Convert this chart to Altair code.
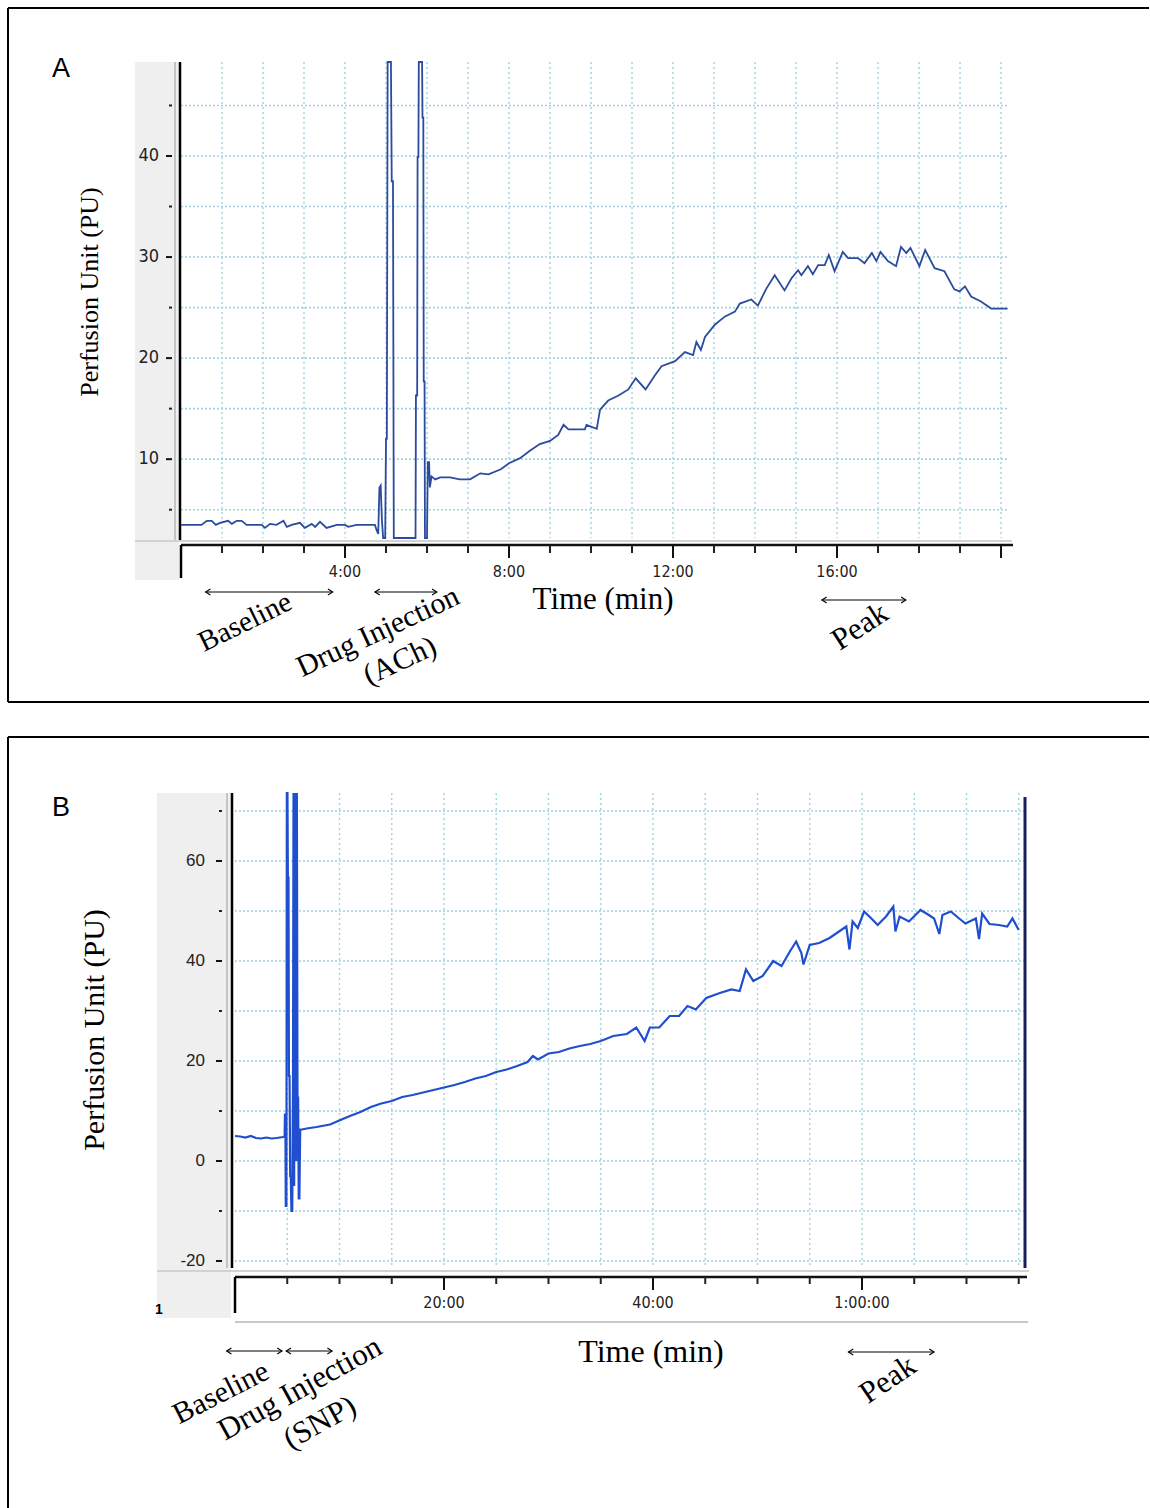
import altair as alt
import pandas as pd

# ---------------- Panel A : ACh ----------------
a_time = [0.0, 0.5, 0.63, 0.75, 0.85, 0.95, 1.15, 1.24, 1.36, 1.48,
          1.6, 1.97, 2.05, 2.17, 2.33, 2.5, 2.58, 2.7, 2.9, 3.02,
          3.19, 3.27, 3.39, 3.55, 3.8, 4.0, 4.08, 4.28, 4.73, 4.77,
          4.81, 4.84, 4.87, 4.9, 4.93, 4.98, 5.0, 5.02, 5.04, 5.12,
          5.14, 5.17, 5.19, 5.72, 5.73, 5.76, 5.77, 5.79, 5.8, 5.88,
          5.89, 5.91, 5.92, 5.94, 5.95, 6.0, 6.02, 6.05, 6.07, 6.11,
          6.2, 6.32, 6.56, 6.8, 7.05, 7.3, 7.5, 7.8, 8.0, 8.27,
          8.5, 8.75, 9.0, 9.2, 9.33, 9.45, 9.85, 9.89, 10.14, 10.22,
          10.42, 10.67, 10.91, 11.09, 11.33, 11.56, 11.72, 12.05, 12.29, 12.49,
          12.57, 12.68, 12.78, 13.02, 13.26, 13.51, 13.63, 13.91, 14.07, 14.28,
          14.48, 14.72, 14.89, 15.05, 15.13, 15.29, 15.41, 15.54, 15.7, 15.8,
          15.94, 16.14, 16.27, 16.51, 16.67, 16.85, 16.96, 17.06, 17.24, 17.44,
          17.56, 17.69, 17.79, 18.01, 18.15, 18.38, 18.62, 18.86, 18.99, 19.12,
          19.27, 19.51, 19.76, 20.16]
a_pu = [3.5, 3.5, 3.9, 3.9, 3.5, 3.7, 3.9, 3.6, 3.9, 3.9,
        3.5, 3.5, 3.2, 3.6, 3.5, 3.9, 3.3, 3.5, 3.7, 3.2,
        3.6, 3.3, 3.8, 3.2, 3.5, 3.5, 3.3, 3.5, 3.5, 3.0,
        2.6, 7.2, 7.4, 4.0, 1.0, 1.0, 12.0, 12.0, 60, 60,
        37.5, 37.5, 1.0, 1.0, 16.3, 16.3, 39.9, 39.9, 60, 60,
        43.8, 43.8, 17.7, 17.7, 1.0, 1.0, 9.7, 9.7, 7.2, 8.3,
        8.0, 8.2, 8.2, 8.0, 8.0, 8.6, 8.5, 9.0, 9.6, 10.1,
        10.8, 11.5, 11.8, 12.4, 13.4, 12.95, 12.95, 13.4, 13.0, 14.9,
        15.8, 16.3, 16.9, 18.0, 16.9, 18.3, 19.2, 19.7, 20.6, 20.3,
        21.6, 20.8, 22.1, 23.3, 24.1, 24.6, 25.4, 25.8, 25.2, 26.9,
        28.2, 26.7, 27.9, 28.7, 28.2, 29.1, 28.3, 29.2, 29.2, 30.2,
        28.6, 30.5, 29.9, 29.9, 29.4, 30.4, 29.6, 30.5, 29.6, 29.1,
        31.0, 30.4, 30.9, 29.1, 30.7, 28.9, 28.6, 26.8, 26.6, 27.1,
        26.1, 25.6, 24.9, 24.9]

a_y_major = [10, 20, 30, 40]
a_y_labels = ["10", "20", "30", "40"]
a_y_minor = [5, 15, 25, 35, 45]
a_x_major = [0, 4, 8, 12, 16, 20]
a_x_labels = ["", "4:00", "8:00", "12:00", "16:00", ""]
a_x_minor = [1, 2, 3, 5, 6, 7, 9, 10, 11, 13, 14, 15, 17, 18, 19]
a_grid_x = list(range(1, 21))
a_grid_y = [5, 10, 15, 20, 25, 30, 35, 40, 45]
a_baseline = [0.6, 3.7]
a_drug = [4.73, 6.24]
a_peak = [15.63, 17.68]

# ---------------- Panel B : SNP ----------------
b_time = [0, 0.5, 1.0, 1.5, 2.0, 2.5, 3.0, 3.5, 4.0, 4.6,
          4.75, 4.78, 4.82, 4.86, 4.92, 4.96, 5.02, 5.06, 5.12, 5.16,
          5.22, 5.28, 5.34, 5.4, 5.48, 5.55, 5.6, 5.66, 5.7, 5.75,
          5.8, 5.86, 5.92, 5.98, 6.04, 6.1, 6.16, 6.24, 6.4, 6.86,
          7.8, 9.1, 10.2, 11.0, 12.0, 13.0, 14.0, 15.0, 16.0, 17.0,
          18.0, 19.0, 20.0, 21.0, 22.0, 23.0, 24.0, 25.0, 26.0, 27.0,
          28.0, 28.5, 29.0, 30.0, 31.0, 32.0, 33.0, 34.0, 35.0, 36.2,
          37.5, 38.4, 39.2, 39.7, 40.6, 41.6, 42.5, 43.3, 44.1, 45.1,
          46.4, 47.5, 48.3, 48.9, 49.6, 50.5, 51.5, 52.3, 53.1, 53.7,
          54.2, 54.4, 55.0, 55.9, 56.9, 57.8, 58.5, 58.8, 59.1, 59.6,
          60.2, 60.9, 61.5, 62.3, 63.0, 63.2, 63.6, 64.5, 65.6, 66.4,
          66.9, 67.4, 67.7, 68.5, 69.3, 69.9, 70.9, 71.2, 71.5, 72.2,
          73.1, 73.9, 74.4, 75.0]
b_pu = [5.0, 4.9, 4.7, 5.0, 4.6, 4.5, 4.7, 4.5, 4.6, 4.8,
        4.9, 9.3, 9.3, -9.0, -9.0, 100, 100, 56.7, 56.7, 17,
        17, -3, -3, -10, -10, 15, 100, -5, 100, 10,
        100, 0, 100, 12.7, 12.7, -7.5, -7.5, 6.3, 6.3, 6.5,
        6.8, 7.3, 8.3, 9.0, 9.8, 10.8, 11.5, 12.0, 12.8, 13.2,
        13.7, 14.2, 14.7, 15.2, 15.8, 16.5, 17.0, 17.8, 18.3, 19.0,
        19.8, 21.0, 20.3, 21.5, 21.8, 22.5, 23.0, 23.4, 24.0, 25.0,
        25.4, 26.7, 24.0, 26.7, 26.7, 29.0, 29.0, 31.0, 30.3, 32.6,
        33.6, 34.3, 34.0, 38.3, 36.0, 37.0, 40.0, 39.0, 41.9, 43.9,
        41.6, 39.3, 43.2, 43.6, 44.6, 45.9, 46.9, 42.3, 47.9, 46.6,
        49.9, 48.5, 47.2, 48.9, 50.9, 45.9, 48.9, 47.9, 50.2, 49.2,
        48.5, 45.4, 49.2, 49.9, 48.5, 47.5, 48.5, 44.4, 49.5, 47.4,
        47.2, 46.9, 48.5, 46.2]

b_y_major = [-20, 0, 20, 40, 60]
b_y_labels = ["-20", "0", "20", "40", "60"]
b_y_minor = [-10, 10, 30, 50, 70]
b_x_major = [0, 20, 40, 60]
b_x_labels = ["", "20:00", "40:00", "1:00:00"]
b_x_minor = [5, 10, 15, 25, 30, 35, 45, 50, 55, 65, 70, 75]
b_grid_x = [5, 10, 15, 20, 25, 30, 35, 40, 45, 50, 55, 60, 65, 70, 75]
b_grid_y = [-20, -10, 0, 10, 20, 30, 40, 50, 60, 70]
b_baseline = [-0.8, 4.5]
b_drug = [4.9, 9.3]
b_peak = [58.7, 66.9]

SERIF = "Liberation Serif, Times New Roman, serif"
SANS = "Liberation Sans, Arial, sans-serif"
NARROW = "Liberation Sans Narrow, Arial Narrow, DejaVu Sans Condensed, Liberation Sans, sans-serif"
GRID = "#9fd3e2"
ONE = pd.DataFrame({"k": [0]})


def rect(x1, x2, y1, y2, color):
    return alt.Chart(ONE).mark_rect(color=color).encode(
        x=alt.value(x1), x2=alt.value(x2), y=alt.value(y1), y2=alt.value(y2))


def hline(x1, x2, y, color="black", w=2.0):
    return alt.Chart(ONE).mark_rule(color=color, strokeWidth=w).encode(
        x=alt.value(x1), x2=alt.value(x2), y=alt.value(y))


def vline(x, y1, y2, color="black", w=2.0):
    return alt.Chart(ONE).mark_rule(color=color, strokeWidth=w).encode(
        x=alt.value(x), y=alt.value(y1), y2=alt.value(y2))


def text(t, x, y, size, font, angle=0, weight="normal"):
    return alt.Chart(ONE).mark_text(
        text=t, font=font, fontSize=size, angle=angle, align="center",
        baseline="middle", color="black", fontWeight=weight).encode(
        x=alt.value(x), y=alt.value(y))


def arrow(span, y, xs):
    df = pd.DataFrame({"t0": [span[0]], "t1": [span[1]]})
    base = alt.Chart(df)
    line = base.mark_rule(color="black", strokeWidth=1.1).encode(
        x=alt.X("t0:Q", scale=xs, axis=None), x2="t1:Q", y=alt.value(y))
    left = base.mark_point(shape="M1.6,-1L0,0L1.6,1", size=36, filled=False,
                           color="black", strokeWidth=1.1, opacity=1).encode(
        x=alt.X("t0:Q", scale=xs, axis=None), y=alt.value(y))
    right = base.mark_point(shape="M-1.6,-1L0,0L-1.6,1", size=36, filled=False,
                            color="black", strokeWidth=1.1, opacity=1).encode(
        x=alt.X("t1:Q", scale=xs, axis=None), y=alt.value(y))
    return [line, left, right]


def panel(P):
    xs = alt.Scale(domain=P["xdom"], range=P["xrange"], nice=False, zero=False)
    ys = alt.Scale(domain=P["ydom"], range=P["yrange"], nice=False, zero=False, clamp=True)
    X = lambda f: alt.X(f, scale=xs, axis=None)
    Y = lambda f: alt.Y(f, scale=ys, axis=None)
    px0, px1 = P["xrange"]
    py_bot, py_top = P["yrange"]
    ax_y = P["xaxis_y"]
    tx = P["ytick_x"]
    layers = []
    # frame of the panel
    layers.append(hline(8, 1149, P["frame_top"], "black", 2))
    layers.append(vline(8, P["frame_top"], P["frame_bot"], "black", 2))
    if P["frame_bottom_line"]:
        layers.append(hline(8, 1149, P["frame_bot"], "black", 2))
    # grey side panel of the recorder window
    layers.append(rect(P["grey_x0"], P["axis_x"] - 1, py_top, P["grey_y1"], "#efefef"))
    layers.append(hline(P["grey_x0"], px1 + 4, P["sep_y"], "#d2d2d2", 2))
    if P.get("strip_bottom"):
        layers.append(hline(px0, px1 + 3, P["strip_bottom"], "#c8c8c8", 2))
    # grid
    gx = pd.DataFrame({"t": P["grid_x"]})
    gy = pd.DataFrame({"v": P["grid_y"]})
    layers.append(alt.Chart(gx).mark_rule(color=GRID, strokeWidth=1.4, strokeDash=[2, 3]).encode(
        x=X("t:Q"), y=alt.value(py_top), y2=alt.value(py_bot)))
    layers.append(alt.Chart(gy).mark_rule(color=GRID, strokeWidth=1.6, strokeDash=[2, 2]).encode(
        y=Y("v:Q"), x=alt.value(px0), x2=alt.value(px1)))
    # y axis line
    layers.append(vline(P["axis_x"] - 5, py_top, py_bot + 2, "#c4c4c4", 2))
    layers.append(vline(P["axis_x"], py_top, py_bot + 2, "black", 2.5))
    if P.get("right_edge"):
        layers.append(vline(px1, py_top + 4, py_bot + 2, "#17205e", 3))
    # y ticks and labels
    ym = pd.DataFrame({"v": P["y_minor"]})
    layers.append(alt.Chart(ym).mark_rule(color="#222", strokeWidth=2).encode(
        y=Y("v:Q"), x=alt.value(tx - 3), x2=alt.value(tx)))
    yM = pd.DataFrame({"v": P["y_major"], "lab": P["y_labels"]})
    layers.append(alt.Chart(yM).mark_rule(color="#111", strokeWidth=2).encode(
        y=Y("v:Q"), x=alt.value(tx - 6), x2=alt.value(tx)))
    layers.append(alt.Chart(yM).mark_text(font=P["ylab_font"], fontSize=P["ylab_size"],
                                          align="right", baseline="middle", color="#222").encode(
        y=Y("v:Q"), x=alt.value(P["ylab_x"]), text="lab:N"))
    # x axis strip
    layers.append(hline(px0, P["xaxis_end"], ax_y, "#111", 2.5))
    xm = pd.DataFrame({"t": P["x_minor"]})
    layers.append(alt.Chart(xm).mark_rule(color="#222", strokeWidth=2).encode(
        x=X("t:Q"), y=alt.value(ax_y), y2=alt.value(ax_y + P["minor_len"])))
    xM = pd.DataFrame({"t": P["x_major"], "lab": P["x_labels"]})
    layers.append(alt.Chart(xM).mark_rule(color="#111", strokeWidth=2).encode(
        x=X("t:Q"), y=alt.value(ax_y), y2=alt.value(ax_y + P["major_len"])))
    layers.append(alt.Chart(xM).mark_text(font=NARROW, fontSize=16, align="center",
                                          baseline="middle", color="#222").encode(
        x=X("t:Q"), y=alt.value(P["xlab_y"]), text="lab:N"))
    x0 = pd.DataFrame({"t": [0]})
    layers.append(alt.Chart(x0).mark_rule(color="black", strokeWidth=2.5).encode(
        x=X("t:Q"), y=alt.value(ax_y), y2=alt.value(ax_y + P["zero_len"])))
    # trace
    df = pd.DataFrame({"t": P["time"], "v": P["pu"], "i": range(len(P["time"]))})
    layers.append(alt.Chart(df).mark_line(color=P["color"], strokeWidth=P["lw"]).encode(
        x=X("t:Q"), y=Y("v:Q"), order="i:Q"))
    # annotations
    for span, yy in P["arrows"]:
        layers.extend(arrow(span, yy, xs))
    for t, x, y, size, font, angle, weight in P["texts"]:
        layers.append(text(t, x, y, size, font, angle, weight))
    return alt.layer(*layers).properties(width=1150, height=P["height"])


PA = dict(
    height=720, time=a_time, pu=a_pu, color="#2a4b9e", lw=1.8,
    xdom=[0, 20.17], xrange=[181, 1008], ydom=[2.2, 49.3], yrange=[538, 62],
    frame_top=8, frame_bot=702, frame_bottom_line=True,
    grey_x0=135, grey_y1=580, sep_y=541, axis_x=180,
    grid_x=a_grid_x, grid_y=a_grid_y, y_minor=a_y_minor, y_major=a_y_major,
    y_labels=a_y_labels, ylab_x=159, ylab_font=NARROW, ylab_size=18,
    x_minor=a_x_minor, x_major=a_x_major, x_labels=a_x_labels,
    ytick_x=172, xaxis_y=545, xaxis_end=1013, minor_len=8, major_len=13, zero_len=33,
    xlab_y=572,
    arrows=[(a_baseline, 592), (a_drug, 592), (a_peak, 600)],
    texts=[("A", 61, 69, 27, SANS, 0, "normal"),
           ("Perfusion Unit (PU)", 90, 292, 26, SERIF, 270, "normal"),
           ("Time (min)", 603, 600, 31, SERIF, 0, "normal"),
           ("Baseline", 245, 622, 29, SERIF, 334, "normal"),
           ("Drug Injection", 378, 632, 30, SERIF, 335, "normal"),
           ("(ACh)", 400, 661, 30, SERIF, 335, "normal"),
           ("Peak", 860, 627, 31, SERIF, 327, "normal")],
)

PB = dict(
    height=788, time=b_time, pu=b_pu, color="#1f4fcf", lw=2.2,
    xdom=[0, 75.6], xrange=[235, 1025], ydom=[-21, 73.6], yrange=[546, 73],
    frame_top=17, frame_bot=788, frame_bottom_line=False,
    grey_x0=157, grey_y1=598, sep_y=551, axis_x=232, strip_bottom=602, right_edge=True,
    grid_x=b_grid_x, grid_y=b_grid_y, y_minor=b_y_minor, y_major=b_y_major,
    y_labels=b_y_labels, ylab_x=205, ylab_font=SANS, ylab_size=17,
    x_minor=b_x_minor, x_major=b_x_major, x_labels=b_x_labels,
    ytick_x=222, xaxis_y=557, xaxis_end=1027, minor_len=7, major_len=13, zero_len=36,
    xlab_y=583,
    arrows=[(b_baseline, 631), (b_drug, 631), (b_peak, 632)],
    texts=[("B", 61, 88, 27, SANS, 0, "normal"),
           ("1", 159, 590, 14, SANS, 0, "bold"),
           ("Perfusion Unit (PU)", 95, 310, 30, SERIF, 270, "normal"),
           ("Time (min)", 651, 632, 32, SERIF, 0, "normal"),
           ("Baseline", 221, 673, 30, SERIF, 333, "normal"),
           ("Drug Injection", 300, 669, 31, SERIF, 331, "normal"),
           ("(SNP)", 320, 703, 31, SERIF, 331, "normal"),
           ("Peak", 888, 660, 31, SERIF, 326, "normal")],
)

chart = alt.vconcat(panel(PA), panel(PB), spacing=0).properties(
    padding=0, background="white").configure_view(stroke=None)

chart.save("out.html", embed_options={"renderer": "svg", "actions": False})
